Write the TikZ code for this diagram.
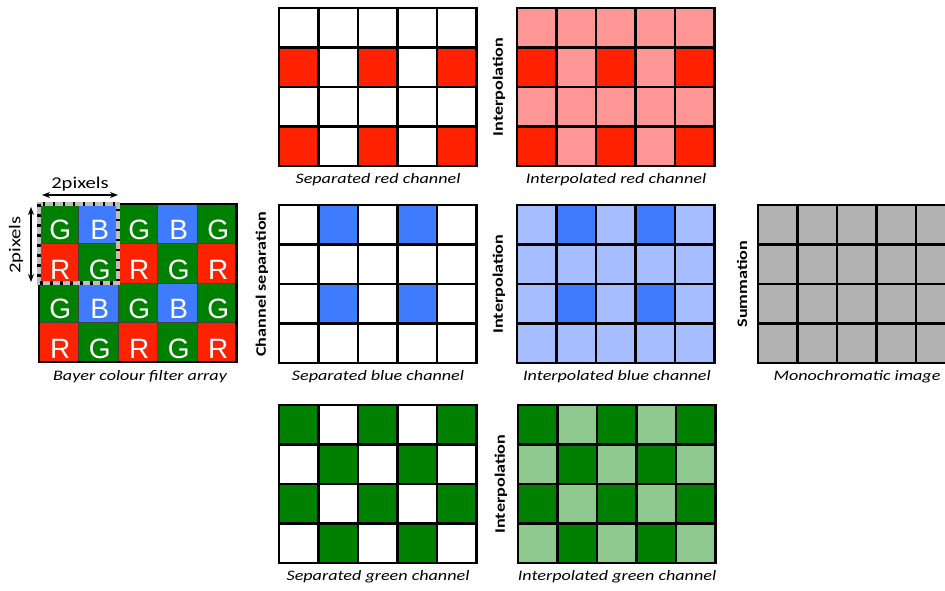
\documentclass[tikz,border=0pt]{standalone}
\usepackage{fontspec}
\setmainfont[FakeStretch=1.25]{Carlito}
\newfontfamily\bayerfont{Liberation Sans}
\usetikzlibrary{arrows.meta}
\definecolor{redFull}{RGB}{255,34,0}
\definecolor{redPale}{RGB}{255,150,150}
\definecolor{blueFull}{RGB}{62,123,255}
\definecolor{bluePale}{RGB}{166,190,255}
\definecolor{greenFull}{RGB}{0,128,0}
\definecolor{greenPale}{RGB}{143,201,143}
\definecolor{greyMono}{RGB}{178,178,178}
\newcommand{\labsize}{\fontsize{14.5pt}{17pt}\selectfont}
% one cell of a 5x4 grid, cell side 39.5
\newcommand{\fillcell}[3]{\fill[#1] (#2*39.5,#3*39.5) rectangle ++(39.5,39.5);}
\newcommand{\gridlines}{%
  \foreach \c in {1,...,4} {\draw[cellline] (\c*39.5,0) -- (\c*39.5,158);}
  \foreach \r in {1,2,3} {\draw[cellline] (0,\r*39.5) -- (197.5,\r*39.5);}
  \draw[cellline] (0,0) rectangle (197.5,158);}

\begin{document}
\begin{tikzpicture}[x=1pt,y=-1pt,
  cellline/.style={black,line width=2.8pt},
  bcell/.style={rectangle,minimum size=39.5pt,inner sep=0pt,draw=black!75,line width=1pt,
                text=white,text height=32pt,text depth=0pt,
                font=\bayerfont\fontsize{28pt}{28pt}\selectfont},
  lab/.style={font=\labsize\itshape},
  vlab/.style={font=\labsize\bfseries,rotate=90},
  dim/.style={{Stealth[length=8pt,width=6pt]}-{Stealth[length=8pt,width=6pt]},line width=1.2pt}]
  \useasboundingbox (0,0) rectangle (945,590);

  % Bayer colour filter array
  \begin{scope}[shift={(39,204)}]
    \foreach \r in {0,2}
      \foreach \c/\k/\t in {0/greenFull/G,1/blueFull/B,2/greenFull/G,3/blueFull/B,4/greenFull/G}
        {\node[bcell,fill=\k] (b\r\c) at (\c*39.5+19.75,\r*39.5+19.75) {\hspace{3pt}\t};}
    \foreach \r in {1,3}
      \foreach \c/\k/\t in {0/redFull/R,1/greenFull/G,2/redFull/R,3/greenFull/G,4/redFull/R}
        {\node[bcell,fill=\k] (b\r\c) at (\c*39.5+19.75,\r*39.5+19.75) {\hspace{3pt}\t};}
    \draw[line width=2.8pt] (0,0) rectangle (197.5,158);
    % 2x2 block
    \draw[black!25,line width=4pt] (0,0) rectangle (79,79);
    \draw[black,line width=3.5pt,dash pattern=on 2.5pt off 7.5pt] (0,0) rectangle (79,79);
  \end{scope}
  \coordinate (pxL) at (42,195);
  \coordinate (pxR) at (118,195);
  \coordinate (pyT) at (31,207);
  \coordinate (pyB) at (31,282);
  \draw[dim] (pxL) -- (pxR);
  \draw[dim] (pyT) -- (pyB);
  \node[font=\fontsize{16.5pt}{18pt}\selectfont] (txtH) at (80,184) {2pixels};
  \node[font=\fontsize{16.5pt}{18pt}\selectfont,rotate=90] (txtV) at (16,245) {2pixels};
  \node[lab] (labBayer) at (140,377) {Bayer colour filter array};

  % separated channels
  \begin{scope}[shift={(279,8)}]
    \foreach \r in {1,3} {\foreach \c in {0,2,4} {\fillcell{redFull}{\c}{\r}}}
    \gridlines
  \end{scope}
  \begin{scope}[shift={(279,205)}]
    \foreach \r in {0,2} {\foreach \c in {1,3} {\fillcell{blueFull}{\c}{\r}}}
    \gridlines
  \end{scope}
  \begin{scope}[shift={(279,405)}]
    \foreach \r in {0,2} {\foreach \c in {0,2,4} {\fillcell{greenFull}{\c}{\r}}}
    \foreach \r in {1,3} {\foreach \c in {1,3} {\fillcell{greenFull}{\c}{\r}}}
    \gridlines
  \end{scope}
  \node[lab] (labSepR) at (378,180) {Separated red channel};
  \node[lab] (labSepB) at (378,377) {Separated blue channel};
  \node[lab] (labSepG) at (378,577) {Separated green channel};
  \node[vlab] (vSep) at (262,284) {Channel separation};

  % interpolated channels
  \begin{scope}[shift={(517,8)}]
    \fill[redPale] (0,0) rectangle (197.5,158);
    \foreach \r in {1,3} {\foreach \c in {0,2,4} {\fillcell{redFull}{\c}{\r}}}
    \gridlines
  \end{scope}
  \begin{scope}[shift={(517,205)}]
    \fill[bluePale] (0,0) rectangle (197.5,158);
    \foreach \r in {0,2} {\foreach \c in {1,3} {\fillcell{blueFull}{\c}{\r}}}
    \gridlines
  \end{scope}
  \begin{scope}[shift={(518,405)}]
    \fill[greenPale] (0,0) rectangle (197.5,158);
    \foreach \r in {0,2} {\foreach \c in {0,2,4} {\fillcell{greenFull}{\c}{\r}}}
    \foreach \r in {1,3} {\foreach \c in {1,3} {\fillcell{greenFull}{\c}{\r}}}
    \gridlines
  \end{scope}
  \node[lab] (labIntR) at (616,180) {Interpolated red channel};
  \node[lab] (labIntB) at (617,377) {Interpolated blue channel};
  \node[lab] (labIntG) at (617,577) {Interpolated green channel};
  \node[vlab] (vIntR) at (499,87) {Interpolation};
  \node[vlab] (vIntB) at (499,284) {Interpolation};
  \node[vlab] (vIntG) at (501,484) {Interpolation};

  % monochromatic image
  \begin{scope}[shift={(758,205)}]
    \fill[greyMono] (0,0) rectangle (197.5,158);
    \gridlines
  \end{scope}
  \node[lab] (labMono) at (857,377) {Monochromatic image};
  \node[vlab] (vSum) at (742,284) {Summation};
\end{tikzpicture}
\end{document}
